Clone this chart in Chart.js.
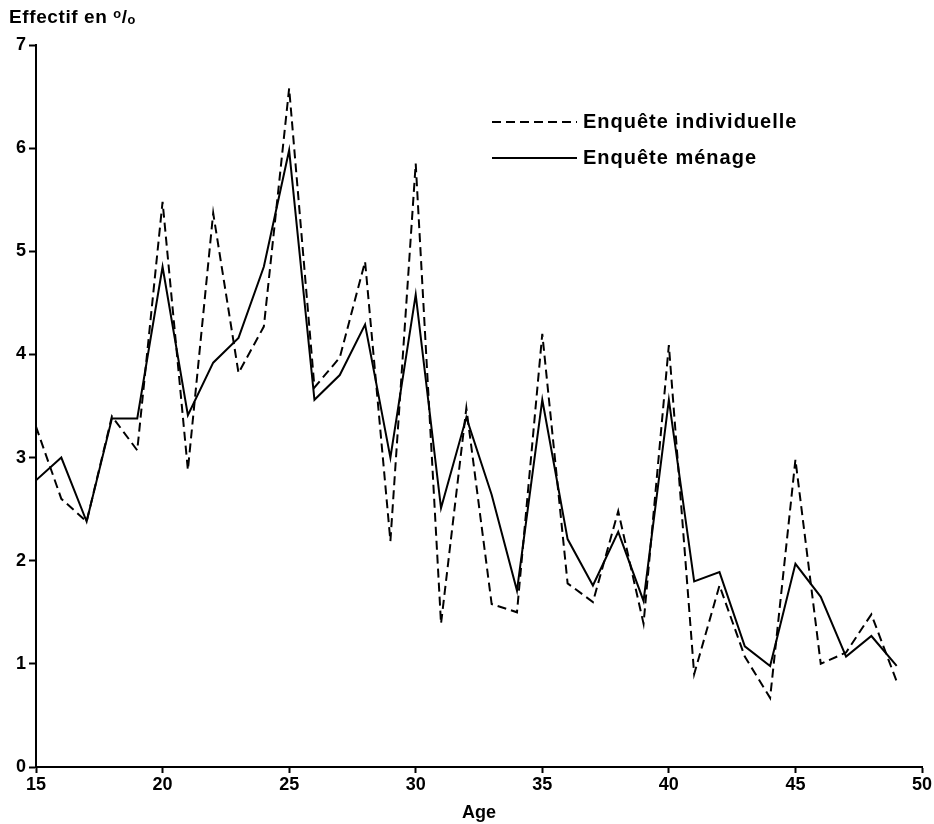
<!DOCTYPE html>
<html>
<head>
<meta charset="utf-8">
<script src="https://cdn.jsdelivr.net/npm/chart.js@4/dist/chart.umd.min.js"></script>
<style>
  html, body { margin: 0; padding: 0; background: #fff; }
  #wrap { width: 934px; height: 824px; }
</style>
</head>
<body>
<div id="wrap"><canvas id="c" width="934" height="824"></canvas></div>
<script>
const ages = [15,16,17,18,19,20,21,22,23,24,25,26,27,28,29,30,31,32,33,34,35,36,37,38,39,40,41,42,43,44,45,46,47,48,49];
const individuelle = [3.3,2.6,2.38,3.4,3.07,5.48,2.88,5.37,3.82,4.27,6.58,3.68,3.97,4.9,2.19,5.85,1.39,3.48,1.58,1.5,4.2,1.78,1.6,2.48,1.39,4.09,0.9,1.76,1.07,0.67,2.98,1.0,1.11,1.48,0.83];
const menage = [2.78,3.0,2.38,3.38,3.38,4.85,3.41,3.92,4.16,4.85,5.98,3.56,3.8,4.29,3.0,4.58,2.51,3.39,2.64,1.71,3.56,2.21,1.76,2.28,1.61,3.56,1.8,1.89,1.17,0.98,1.97,1.65,1.07,1.27,0.98];
const xTicks = [15,20,25,30,35,40,45,50];
const yTicks = [0,1,2,3,4,5,6,7];
const labels = ['Enquête individuelle', 'Enquête ménage'];
const yTitle = 'Effectif en ᵒ/ₒ';
const xTitle = 'Age';

const FONT = '"Liberation Sans", Arial, sans-serif';

const overlay = {
  id: 'overlay',
  afterDraw(chart) {
    const ctx = chart.ctx;
    ctx.save();
    ctx.fillStyle = '#000';
    ctx.textBaseline = 'middle';
    ctx.textAlign = 'left';
    ctx.font = 'bold 19px ' + FONT;
    if ('letterSpacing' in ctx) ctx.letterSpacing = '0.6px';
    ctx.fillText(yTitle, 9, 18);
    // legend
    const lx0 = 492, lx1 = 577;
    const rows = [122, 158];
    chart.data.datasets.forEach((ds, i) => {
      const y = rows[i];
      ctx.beginPath();
      ctx.setLineDash(ds.borderDash || []);
      ctx.lineWidth = 2;
      ctx.strokeStyle = '#000';
      ctx.moveTo(lx0, y);
      ctx.lineTo(lx1, y);
      ctx.stroke();
      ctx.setLineDash([]);
      ctx.font = 'bold 20px ' + FONT;
      if ('letterSpacing' in ctx) ctx.letterSpacing = '1px';
      ctx.fillText(ds.label, lx1 + 6, y);
    });
    ctx.restore();
  }
};

new Chart(document.getElementById('c'), {
  type: 'line',
  data: {
    datasets: [
      {
        label: labels[0],
        data: ages.map((a, i) => ({ x: a, y: individuelle[i] })),
        borderColor: '#000',
        borderWidth: 2,
        borderDash: [9, 5],
        pointRadius: 0,
        tension: 0,
        fill: false
      },
      {
        label: labels[1],
        data: ages.map((a, i) => ({ x: a, y: menage[i] })),
        borderColor: '#000',
        borderWidth: 2,
        pointRadius: 0,
        tension: 0,
        fill: false
      }
    ]
  },
  options: {
    responsive: false,
    animation: false,
    devicePixelRatio: 1,
    layout: { padding: { left: 0, right: 12, top: 45, bottom: 0 } },
    plugins: { legend: { display: false }, tooltip: { enabled: false } },
    scales: {
      x: {
        type: 'linear',
        min: 15, max: 50,
        afterBuildTicks: s => { s.ticks = xTicks.map(v => ({ value: v })); },
        afterFit: s => { s.height = 57; },
        grid: { drawOnChartArea: false, color: '#000', tickLength: 6, tickWidth: 2 },
        border: { display: true, color: '#000', width: 2 },
        ticks: { color: '#000', font: { family: FONT, size: 18, weight: 'bold' }, padding: 1, maxRotation: 0 },
        title: { display: true, text: xTitle, color: '#000', font: { family: FONT, size: 18, weight: 'bold' }, padding: { top: 1, bottom: 0 } }
      },
      y: {
        min: 0, max: 7,
        afterBuildTicks: s => { s.ticks = yTicks.map(v => ({ value: v })); },
        afterFit: s => { s.width = 36; },
        grid: { drawOnChartArea: false, color: '#000', tickLength: 7, tickWidth: 2 },
        border: { display: true, color: '#000', width: 2 },
        ticks: { color: '#000', font: { family: FONT, size: 18, weight: 'bold' }, padding: 3 }
      }
    }
  },
  plugins: [overlay]
});
</script>
</body>
</html>
